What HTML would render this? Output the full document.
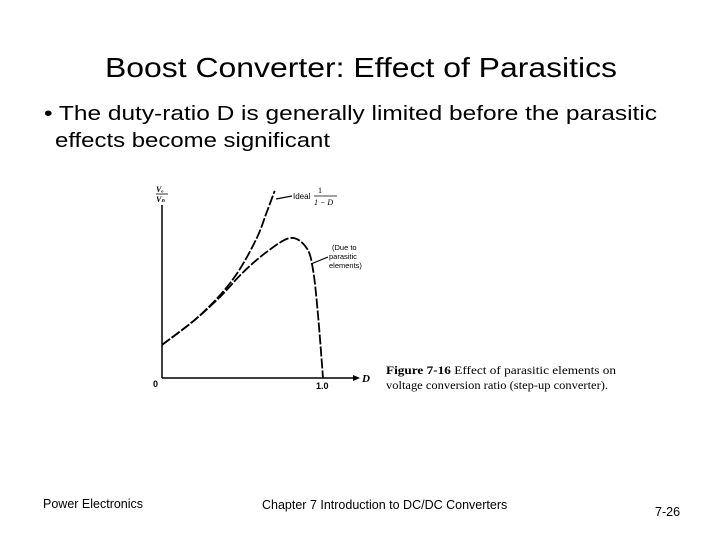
<!DOCTYPE html>
<html><head><meta charset="utf-8"><style>body{margin:0;background:#fff}svg{display:block}</style></head>
<body>
<svg width="720" height="540" viewBox="0 0 720 540" xmlns="http://www.w3.org/2000/svg">
<text x="105" y="77" font-family="Liberation Sans, sans-serif" font-size="28" textLength="512" lengthAdjust="spacingAndGlyphs">Boost Converter: Effect of Parasitics</text>
<text x="44" y="120" font-family="Liberation Sans, sans-serif" font-size="20" textLength="613" lengthAdjust="spacingAndGlyphs">• The duty-ratio D is generally limited before the parasitic</text>
<text x="55" y="147" font-family="Liberation Sans, sans-serif" font-size="20" textLength="275" lengthAdjust="spacingAndGlyphs">effects become significant</text>
<g id="chart"></g>
<text x="386" y="374" font-family="Liberation Serif, serif" font-size="11.5" textLength="230" lengthAdjust="spacingAndGlyphs"><tspan font-weight="bold">Figure 7-16</tspan>   Effect of parasitic elements on</text>
<text x="386" y="389" font-family="Liberation Serif, serif" font-size="11.5" textLength="222" lengthAdjust="spacingAndGlyphs">voltage conversion ratio (step-up converter).</text>
<text x="43" y="508" font-family="Liberation Sans, sans-serif" font-size="12.5">Power Electronics</text>
<text x="262" y="509" font-family="Liberation Sans, sans-serif" font-size="12.5">Chapter 7 Introduction to DC/DC Converters</text>
<text x="655" y="516" font-family="Liberation Sans, sans-serif" font-size="12.5">7-26</text>
</svg>
<script>
const idealD=[0,0.2,0.36,0.48,0.59,0.65,0.70];
const idealR=[0.92,1.6,2.3,3.0,3.9,4.6,5.2];
const parD=[0,0.2,0.36,0.5,0.65,0.8,0.9,0.94,0.97,1.0];
const parR=[0.92,1.6,2.25,2.92,3.5,3.89,3.6,2.95,1.7,0];
const xTicks=["0","1.0"];
const NS="http://www.w3.org/2000/svg";
const g=document.getElementById('chart');
const X=d=>162+d*161, Y=r=>378-r*36;
function mk(t,a){const e=document.createElementNS(NS,t);for(const k in a)e.setAttribute(k,a[k]);g.appendChild(e);return e;}
function smooth(ds,rs){const p=ds.map((d,i)=>[X(d),Y(rs[i])]);let s=`M${p[0][0]},${p[0][1]}`;
for(let i=0;i<p.length-1;i++){const p0=p[i-1]||p[i],p1=p[i],p2=p[i+1],p3=p[i+2]||p2;
s+=` C${p1[0]+(p2[0]-p0[0])/6},${p1[1]+(p2[1]-p0[1])/6} ${p2[0]-(p3[0]-p1[0])/6},${p2[1]-(p3[1]-p1[1])/6} ${p2[0]},${p2[1]}`;}return s;}
let e;
e=mk('line',{x1:162,y1:378,x2:162,y2:205,stroke:'#000','stroke-width':1.5});

e=mk('line',{x1:162,y1:378,x2:355,y2:378,stroke:'#000','stroke-width':1.5});

e=mk('path',{d:'M353,375 L360,378 L353,381 Z',fill:'#000'});

e=mk('path',{d:smooth(idealD,idealR),fill:'none',stroke:'#000','stroke-width':1.8,'stroke-dasharray':'10,2'});

e=mk('path',{d:smooth(parD,parR),fill:'none',stroke:'#000','stroke-width':1.8,'stroke-dasharray':'10,2'});

e=mk('text',{x:X(0)-9,y:387,'font-family':'Liberation Sans, sans-serif','font-size':9,'font-weight':'bold'});e.textContent=xTicks[0];

e=mk('text',{x:X(1)-7,y:389,'font-family':'Liberation Sans, sans-serif','font-size':9,'font-weight':'bold'});e.textContent=xTicks[1];

e=mk('text',{x:362,y:382,'font-family':'Liberation Serif, serif','font-size':11,'font-style':'italic','font-weight':'bold'});e.textContent='D';

e=mk('text',{x:156,y:192,'font-family':'Liberation Serif, serif','font-size':8,'font-style':'italic','font-weight':'bold'});e.textContent='V\u2092';

e=mk('line',{x1:156,y1:194,x2:168,y2:194,stroke:'#000','stroke-width':0.8});

e=mk('text',{x:156,y:202,'font-family':'Liberation Serif, serif','font-size':8,'font-style':'italic','font-weight':'bold'});e.textContent='V\u2099';

e=mk('line',{x1:276,y1:199,x2:292,y2:196,stroke:'#000','stroke-width':1.2});

e=mk('text',{x:293,y:199,'font-family':'Liberation Sans, sans-serif','font-size':8});e.textContent='Ideal';

e=mk('text',{x:318,y:193,'font-family':'Liberation Serif, serif','font-size':8});e.textContent='1';

e=mk('line',{x1:314,y1:196,x2:337,y2:196,stroke:'#000','stroke-width':0.7});

e=mk('text',{x:314,y:205,'font-family':'Liberation Serif, serif','font-size':8,'font-style':'italic'});e.textContent='1 \u2212 D';

e=mk('line',{x1:311,y1:264,x2:328,y2:257,stroke:'#000','stroke-width':1.2});

['(Due to','parasitic','elements)'].forEach((t,i)=>{e=mk('text',{x:i?329:332,y:250+i*9,'font-family':'Liberation Sans, sans-serif','font-size':7.5});e.textContent=t;
});
</script>
</body></html>
